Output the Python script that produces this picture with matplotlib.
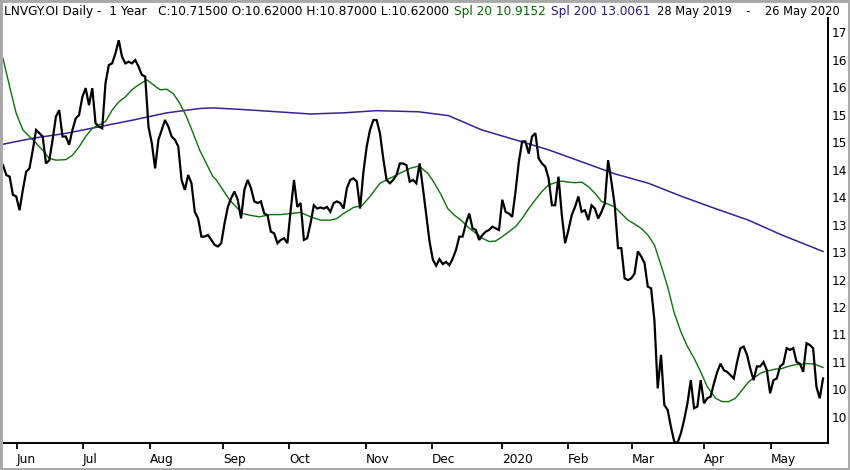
import matplotlib
matplotlib.use('Agg')
import matplotlib.pyplot as plt
import numpy as np
from matplotlib.patches import Rectangle

# ---------------- data ----------------
close = [
    14.58, 14.40, 14.37, 14.04, 14.01, 13.76, 14.13, 14.46, 14.52, 14.85,
    15.22, 15.16, 15.10, 14.61, 14.67, 15.04, 15.46, 15.58, 15.10, 15.10,
    14.95, 15.22, 15.43, 15.49, 15.82, 15.98, 15.67, 15.98, 15.34, 15.28,
    15.25, 16.07, 16.40, 16.43, 16.61, 16.85, 16.55, 16.43, 16.46, 16.43,
    16.49, 16.37, 16.22, 16.19, 15.28, 14.98, 14.52, 15.04, 15.22, 15.40,
    15.28, 15.10, 15.04, 14.92, 14.31, 14.13, 14.40, 14.25, 13.73, 13.61,
    13.28, 13.28, 13.31, 13.22,
    13.13, 13.10, 13.16, 13.52, 13.82, 13.98, 14.10, 13.95, 13.61, 14.13,
    14.31, 14.16, 13.92, 13.89, 13.92, 13.70, 13.67, 13.37, 13.34, 13.16,
    13.22, 13.25, 13.16, 13.76, 14.31, 13.82, 13.89, 13.22, 13.25, 13.52,
    13.85, 13.79, 13.81, 13.79, 13.82, 13.73, 13.89, 13.92, 13.89, 13.79,
    14.16, 14.31, 14.34, 14.28,
    13.79, 14.46, 14.92, 15.22, 15.40, 15.40, 15.16, 14.70, 14.31, 14.25,
    14.31, 14.40, 14.61, 14.61, 14.58, 14.28, 14.31, 14.25, 14.61,
    14.16, 13.67, 13.19, 12.86, 12.75, 12.87, 12.78, 12.82, 12.76, 12.88,
    13.04, 13.28, 13.28, 13.52, 13.70, 13.43, 13.40, 13.22, 13.31, 13.37,
    13.40, 13.46, 13.43, 13.40, 13.95, 13.73, 13.70, 13.64, 14.10, 14.64,
    15.01, 15.01, 14.79, 15.10, 15.16, 14.70, 14.61, 14.55, 14.34, 13.85,
    13.85, 14.37, 13.67, 13.16, 13.40, 13.67, 13.82, 14.01, 13.73, 13.76,
    13.58, 13.85, 13.79, 13.61, 13.73, 13.88, 14.67, 14.28, 13.85, 13.07,
    13.07, 12.52,
    12.49, 12.52, 12.61, 13.01, 12.92, 12.80, 12.37, 12.34, 11.76,
    10.52, 11.13, 10.22, 10.13, 9.82, 9.55,
    9.53, 9.70, 9.95, 10.25, 10.67, 10.16, 10.19, 10.67,
    10.25, 10.34,
    10.37, 10.61, 10.82, 10.97, 10.85, 10.82, 10.76, 10.70, 11.00, 11.25,
    11.28, 11.13, 10.88, 10.67, 10.92, 10.92,
    11.00,
    10.85, 10.43, 10.67, 10.70, 10.92, 10.97, 11.25, 11.22, 11.25, 11.00,
    10.97, 10.82, 11.34, 11.31, 11.25, 10.55, 10.34, 10.70,
]

# Spl 20 (trading-day index, value)
spl20_x = [0, 2, 4, 6, 8, 10, 12, 14, 16, 19, 21, 23, 25, 27, 29, 31, 33, 35, 37, 39,
           41, 43.5, 45.5, 47.5, 49.5, 51.5, 53.5, 55.5, 57.5, 59.5, 61.5, 63.5, 64.5,
           66.5, 68.5, 70.5, 72.5, 74.5, 77.5, 81, 84, 87, 90, 93, 96, 99, 101, 103,
           106, 108.5, 111, 114, 117, 120, 123, 125.5, 126.5, 128.5, 130.5, 132.5,
           134.5, 136.5, 138.5, 140.5, 143, 145, 147, 149, 151, 153, 155, 157, 159,
           161, 163, 165, 167, 169, 171, 173, 175, 177, 179, 181, 183, 185, 187, 189,
           191, 193, 195, 197, 199, 201, 203, 205, 207, 209, 211, 213, 215.5, 217.5,
           219.5, 221.5, 223.5, 225.5, 227.5, 229.5, 231.5, 233.5, 235.5, 237.5,
           239.5, 241.5, 243.5, 245.5, 248]
spl20_y = [16.52, 16.01, 15.52, 15.22, 15.10, 14.98, 14.85, 14.70, 14.67, 14.68, 14.76,
           14.91, 15.10, 15.25, 15.31, 15.37, 15.58, 15.73, 15.82, 15.95, 16.04, 16.13,
           16.04, 15.95, 15.96, 15.88, 15.70, 15.46, 15.16, 14.85, 14.61, 14.37, 14.31,
           14.13, 13.95, 13.82, 13.70, 13.67, 13.64, 13.68, 13.68, 13.70, 13.72, 13.64,
           13.58, 13.58, 13.61, 13.70, 13.81, 13.84, 14.01, 14.25, 14.34, 14.43, 14.52,
           14.56, 14.53, 14.43, 14.25, 14.04, 13.79, 13.67, 13.58, 13.46, 13.34, 13.25,
           13.19, 13.20, 13.28, 13.37, 13.46, 13.61, 13.79, 13.95, 14.10, 14.22, 14.26,
           14.29, 14.27, 14.26, 14.27, 14.19, 14.07, 13.92, 13.87, 13.82, 13.70, 13.58,
           13.51, 13.43, 13.31, 13.13, 12.76, 12.37, 11.89, 11.55, 11.28, 11.07, 10.82,
           10.55, 10.34, 10.28, 10.28, 10.34, 10.49, 10.64, 10.73, 10.81, 10.84, 10.87,
           10.88, 10.92, 10.95, 10.96, 10.97, 10.96, 10.90]

# Spl 200 (trading-day index, value)
spl200_x = [0, 9.2, 19.3, 29.3, 39.4, 49.5, 59.6, 63.6, 72.7, 82.8, 92.9, 102.9, 113.0,
            125.6, 134.7, 144.8, 154.9, 164.9, 175.0, 185.1, 195.2, 205.3, 215.4,
            225.4, 235.5, 248]
spl200_y = [14.96, 15.07, 15.16, 15.28, 15.40, 15.53, 15.61, 15.62, 15.59, 15.55, 15.51,
            15.53, 15.57, 15.55, 15.48, 15.22, 15.04, 14.86, 14.64, 14.42, 14.25, 14.01,
            13.79, 13.58, 13.31, 13.01]

month_labels = ['Jun', 'Jul', 'Aug', 'Sep', 'Oct', 'Nov', 'Dec', '2020', 'Feb', 'Mar', 'Apr', 'May']
month_idx = [4.2, 24.2, 44.5, 66.5, 86.5, 109.8, 129.8, 150.9, 170.9, 190.3, 212.0, 232.3]

ytick_vals = [17, 16.5, 16, 15.5, 15, 14.5, 14, 13.5, 13, 12.5, 12, 11.5, 11, 10.5, 10]
ytick_labels = ['17', '16', '16', '15', '15', '14', '14', '13', '13', '12', '12', '11', '11', '10', '10']

head_black = "LNVGY.OI Daily -  1 Year   C:10.71500 O:10.62000 H:10.87000 L:10.62000"
head_spl20 = "Spl 20 10.9152"
head_spl200 = "Spl 200 13.0061"
head_dates = "28 May 2019    -    26 May 2020"

# ---------------- figure ----------------
W, H = 850, 470
FS = 8.7
HFS = 8.7
DFS = 8.3
plt.rcParams['font.family'] = ['DejaVu Sans']
fig = plt.figure(figsize=(W / 100, H / 100), dpi=100)
fig.patch.set_facecolor('white')

ax_l, ax_r, ax_t, ax_b = 3, 828, 18, 443
ax = fig.add_axes([ax_l / W, (H - ax_b) / H, (ax_r - ax_l) / W, (ax_b - ax_t) / H])

ax.plot(spl200_x, spl200_y, color='#3a1f9a', lw=1.1, zorder=2)
ax.plot(spl20_x, spl20_y, color='#0a730a', lw=1.0, zorder=3)
ax.plot(np.arange(len(close)), close, color='black', lw=1.6, zorder=4,
        solid_joinstyle='miter')

ax.set_xlim(0, 249.5)
ax.set_ylim(9.527, 17.255)

for s in ['left', 'top']:
    ax.spines[s].set_visible(False)
for s in ['right', 'bottom']:
    ax.spines[s].set_linewidth(1.4)
    ax.spines[s].set_color('black')

ax.yaxis.tick_right()
ax.set_yticks(ytick_vals)
ax.set_yticklabels(ytick_labels, fontsize=FS)
ax.tick_params(axis='y', length=0, pad=2.5)

ax.set_xticks(month_idx)
ax.set_xticklabels(month_labels, fontsize=FS, ha='left')
ax.tick_params(axis='x', direction='out', length=4, width=1.3, pad=3)

# header text, laid out piece by piece
ty = 1 - 11.5 / H
renderer = fig.canvas.get_renderer()
t1 = fig.text(4 / W, ty, head_black, color='black', fontsize=HFS, ha='left', va='center')
x_end = t1.get_window_extent(renderer).x1
gap = 5
t2 = fig.text((x_end + gap) / W, ty, head_spl20, color='#006a00', fontsize=HFS,
              ha='left', va='center')
x_end = t2.get_window_extent(renderer).x1
t3 = fig.text((x_end + gap) / W, ty, head_spl200, color='#2c1a80', fontsize=HFS,
              ha='left', va='center')
fig.text(840 / W, ty, head_dates, color='black', fontsize=DFS, ha='right', va='center')

# gray frame around the figure
fig.patches.append(Rectangle((0, 0), 1, 1, transform=fig.transFigure, fill=False,
                             edgecolor='#a8a8a8', lw=3.5, zorder=10))

fig.savefig('out.png', dpi=100)
